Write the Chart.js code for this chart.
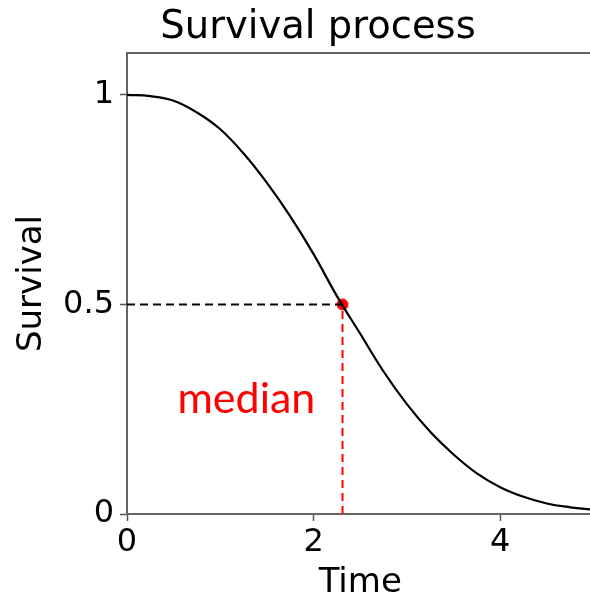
<!DOCTYPE html>
<html>
<head>
<meta charset="utf-8">
<script src="https://cdn.jsdelivr.net/npm/chart.js@4"></script>
<style>
  html, body { margin: 0; padding: 0; background: #fff; overflow: hidden; }
  #wrap { width: 600px; height: 600px; }
</style>
</head>
<body>
<div id="wrap"><canvas id="survivalChart" width="600" height="600"></canvas></div>
<script>
// values
const times = [0, 0.25, 0.5, 0.75, 1, 1.25, 1.5, 1.75, 2, 2.25, 2.5, 2.75, 3, 3.25, 3.5, 3.75, 4, 4.25, 4.5, 4.75, 5];
const survival = [1, 0.997, 0.986, 0.958, 0.918, 0.86, 0.79, 0.71, 0.62, 0.52, 0.43, 0.34, 0.262, 0.196, 0.142, 0.097, 0.064, 0.041, 0.025, 0.016, 0.01];
const medianTime = 2.31;
const medianSurvival = 0.5;
const xTicks = [0, 2, 4];
const yTicks = [0, 0.5, 1];
const yTickLabels = ['0', '0.5', '1'];

const FONT = "'DejaVu Sans', sans-serif";

// title + "median" text + top frame line
const extras = {
  id: 'extras',
  afterDraw(chart) {
    const c = chart.ctx, a = chart.chartArea;
    c.save();
    c.strokeStyle = '#666';
    c.lineWidth = 2;
    c.beginPath();
    c.moveTo(a.left - 1, a.top);
    c.lineTo(a.right, a.top);
    c.stroke();

    c.fillStyle = '#000';
    c.font = '38.5px ' + FONT;
    c.textAlign = 'center';
    c.textBaseline = 'alphabetic';
    c.fillText('Survival process', 318, 38);

    c.fillStyle = '#ff0000';
    c.font = "43px Lato, 'Open Sans', sans-serif";
    const sx = chart.scales.x, sy = chart.scales.y;
    c.fillText('median', sx.getPixelForValue(1.28), sy.getPixelForValue(0.24));
    c.restore();
  }
};

const ctx = document.getElementById('survivalChart');
new Chart(ctx, {
  type: 'line',
  data: {
    datasets: [
      {
        label: 'survival',
        data: times.map((t, i) => ({ x: t, y: survival[i] })),
        borderColor: '#000',
        borderWidth: 2.2,
        pointRadius: 0,
        tension: 0.4,
        fill: false
      },
      {
        label: 'half',
        data: [{ x: 0, y: medianSurvival }, { x: medianTime, y: medianSurvival }],
        borderColor: '#000',
        borderWidth: 2,
        borderDash: [8, 5],
        pointRadius: 0
      },
      {
        label: 'median line',
        data: [{ x: medianTime, y: 0 }, { x: medianTime, y: medianSurvival }],
        borderColor: '#ff0000',
        borderWidth: 2,
        borderDash: [8, 5],
        pointRadius: 0
      },
      {
        label: 'median point',
        data: [{ x: medianTime, y: medianSurvival }],
        showLine: false,
        pointRadius: 5.5,
        pointBackgroundColor: '#ff0000',
        pointBorderColor: '#ff0000'
      }
    ]
  },
  options: {
    responsive: false,
    animation: false,
    layout: { padding: { top: 53, right: 4, left: 0, bottom: 0 } },
    plugins: {
      legend: { display: false },
      tooltip: { enabled: false }
    },
    scales: {
      x: {
        type: 'linear',
        min: 0,
        max: 5,
        afterBuildTicks: (s) => { s.ticks = xTicks.map(v => ({ value: v })); },
        afterFit: (s) => { s.height = 86; },
        grid: { drawOnChartArea: false, tickLength: 7, tickWidth: 1.5, color: '#555' },
        border: { color: '#666', width: 2 },
        ticks: { color: '#000', font: { family: FONT, size: 32 }, padding: 2, maxRotation: 0 },
        title: { display: true, text: 'Time', color: '#000', font: { family: FONT, size: 34, lineHeight: 1 }, padding: 0 }
      },
      y: {
        type: 'linear',
        min: 0,
        max: 1.1,
        afterBuildTicks: (s) => { s.ticks = yTicks.map(v => ({ value: v })); },
        afterFit: (s) => { s.width = 127; },
        grid: { drawOnChartArea: false, tickLength: 7, tickWidth: 1.5, color: '#555' },
        border: { color: '#666', width: 2 },
        ticks: {
          color: '#000',
          font: { family: FONT, size: 32 },
          padding: 6,
          callback: (v) => yTickLabels[yTicks.indexOf(v)]
        },
        title: { display: true, text: 'Survival', color: '#000', font: { family: FONT, size: 34, lineHeight: 1.2 }, padding: { top: 12, bottom: 0 } }
      }
    }
  },
  plugins: [extras]
});
</script>
</body>
</html>
